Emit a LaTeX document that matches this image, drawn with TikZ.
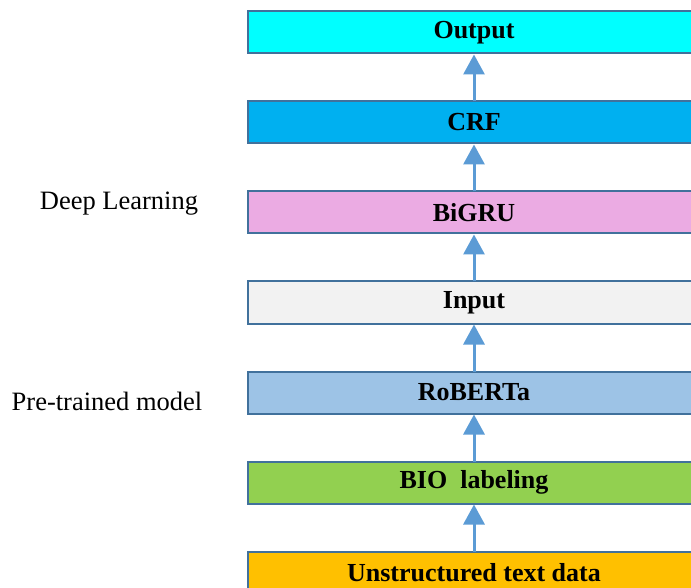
\documentclass[tikz,border=0pt]{standalone}
\usepackage{fontspec}
\setmainfont{Liberation Serif}
\usepackage{tikz}
\usetikzlibrary{arrows,arrows.meta,positioning,calc}
\usepackage{xcolor}
\definecolor{edgeblue}{HTML}{41719C}
\definecolor{arrowblue}{HTML}{5B9BD5}
\definecolor{outcol}{HTML}{00FFFF}
\definecolor{crfcol}{HTML}{00B0F0}
\definecolor{grucol}{HTML}{EBABE3}
\definecolor{incol}{HTML}{F2F2F2}
\definecolor{robcol}{HTML}{9DC3E6}
\definecolor{biocol}{HTML}{92D050}
\definecolor{rawcol}{HTML}{FFC000}

\begin{document}
\begin{tikzpicture}[>={Triangle[length=20pt,width=21pt]},x=1pt,y=-1pt,node distance = 48pt]
\tikzstyle{block}=[draw = edgeblue, rectangle, line width=2pt, minimum width=452pt, minimum height=42pt, inner sep=0pt, outer sep=0pt, font=\bfseries\fontsize{26}{30}\selectfont]
\tikzstyle{side}=[font=\fontsize{26.5}{30}\selectfont]
\useasboundingbox (0,0) rectangle (691,588);
\clip (0,0) rectangle (691,588);

\node[block, fill=rawcol]  (7) at (474,572.5)  {Unstructured text data};
\node[block, fill=biocol]  (6)[above=of 7]     {BIO\ \ labeling};
\node[block, fill=robcol]  (5)[above=of 6]     {RoBERTa};
\node[block, fill=incol]   (4)[above=of 5]     {Input};
\node[block, fill=grucol]  (3)[above=of 4]     {BiGRU};
\node[block, fill=crfcol]  (2)[above=of 3]     {CRF};
\node[block, fill=outcol]  (1)[above=of 2]     {Output};

\node[side] (dl) at (119,204) {Deep Learning};
\node[side] (pt) at (107,401) {Pre-trained model};

\path[->, color=arrowblue, line width=3pt, shorten >=1pt]
(7) edge (6)
(6) edge (5)
(5) edge (4)
(4) edge (3)
(3) edge (2)
(2) edge (1);
\end{tikzpicture}
\end{document}
